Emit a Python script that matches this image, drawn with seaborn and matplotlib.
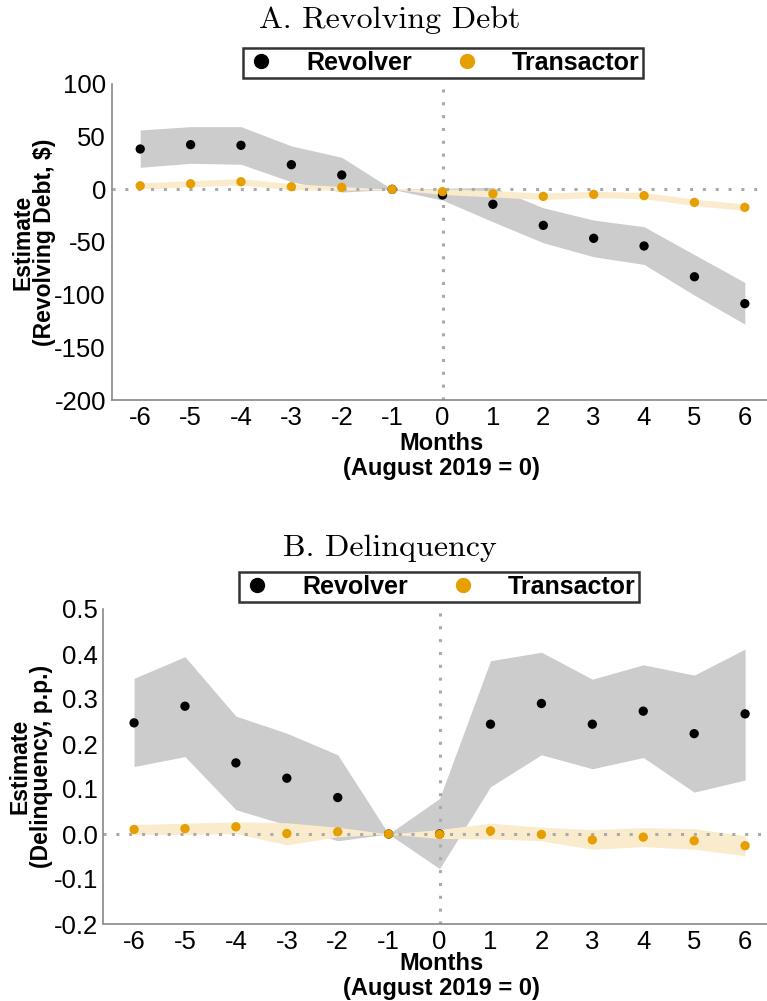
import numpy as np
import pandas as pd
import matplotlib
matplotlib.use("Agg")
import matplotlib.pyplot as plt
import seaborn as sns
from matplotlib.lines import Line2D

months = [-6, -5, -4, -3, -2, -1, 0, 1, 2, 3, 4, 5, 6]

# Panel A: revolving debt ($)
debt_rev = [38.3, 42.4, 41.8, 23.4, 13.6, 0, -5.4, -14.2, -34.2, -46.5, -53.8, -83.0, -108.5]
debt_rev_hi = [56.4, 59.5, 59.5, 41.2, 30.4, 0, 1.0, 1.9, -17.5, -29.2, -35.5, -62.0, -88.4]
debt_rev_lo = [20.9, 24.7, 23.8, 7.2, -2.6, 0, -10.2, -30.8, -50.7, -64.0, -71.3, -100.5, -128.0]
debt_tra = [3.4, 5.3, 7.2, 2.5, 1.9, 0, -2.2, -4.2, -6.7, -4.8, -6.0, -12.4, -17.1]
debt_tra_hi = [6.3, 8.2, 10.2, 5.3, 2.8, 0, 0.5, -1.2, -3.7, -1.8, -3.0, -9.4, -14.0]
debt_tra_lo = [0.5, 2.4, 4.2, -0.3, -1.0, 0, -4.9, -7.2, -9.7, -7.8, -9.0, -15.4, -20.2]

# Panel B: delinquency (p.p.)
delq_rev = [0.247, 0.284, 0.158, 0.124, 0.081, 0, 0.0, 0.244, 0.290, 0.244, 0.273, 0.223, 0.267]
delq_rev_hi = [0.346, 0.394, 0.262, 0.224, 0.176, 0, 0.079, 0.385, 0.404, 0.344, 0.376, 0.353, 0.411]
delq_rev_lo = [0.150, 0.172, 0.054, 0.020, -0.015, 0, -0.077, 0.105, 0.176, 0.145, 0.170, 0.093, 0.120]
delq_tra = [0.010, 0.012, 0.016, 0.001, 0.005, 0, -0.001, 0.007, -0.001, -0.013, -0.007, -0.015, -0.026]
delq_tra_hi = [0.021, 0.024, 0.027, 0.025, 0.015, 0, 0.010, 0.024, 0.015, 0.010, 0.014, 0.012, -0.004]
delq_tra_lo = [-0.001, -0.001, 0.001, -0.024, -0.006, 0, -0.010, -0.011, -0.015, -0.034, -0.028, -0.034, -0.048]

groups = ["Revolver", "Transactor"]
colors = {"Revolver": "black", "Transactor": "#E69F00"}
band_colors = {"Revolver": "#CCCCCC", "Transactor": "#FAEBCC"}

sns.set_style("white")
plt.rcParams["font.family"] = ["Liberation Sans", "DejaVu Sans"]
plt.rcParams["text.color"] = "black"
plt.rcParams["axes.labelcolor"] = "black"

W, H = 767, 1001
fig = plt.figure(figsize=(W / 100, H / 100), dpi=100)


def panel(rect, xlim, ylim, yticks, ytick_labels, est, hi, lo, ylabel, ylab_x, xlab_y,
          title, title_y, leg_x, leg_y):
    ax = fig.add_axes(rect)
    for g in groups:
        ax.fill_between(months, lo[g], hi[g], color=band_colors[g], lw=0, zorder=1)
    ax.axhline(0, color="#AAAAAA", lw=2.2, ls=(0, (1, 3.2)), zorder=2)
    ax.axvline(0, color="#AAAAAA", lw=2.2, ls=(0, (1, 3.2)), zorder=2)
    df = pd.DataFrame({
        "month": months * 2,
        "estimate": est["Revolver"] + est["Transactor"],
        "group": ["Revolver"] * len(months) + ["Transactor"] * len(months),
    })
    sns.scatterplot(data=df, x="month", y="estimate", hue="group", palette=colors,
                    s=45, edgecolor="none", legend=False, ax=ax, zorder=3)
    ax.set_xlim(*xlim)
    ax.set_ylim(*ylim)
    ax.set_xticks(months)
    ax.set_xticklabels([str(m) for m in months])
    ax.set_yticks(yticks)
    ax.set_yticklabels(ytick_labels)
    ax.tick_params(axis="both", labelsize=18.5, length=3, width=1, color="#888888",
                   labelcolor="black", pad=1, direction="out")
    ax.tick_params(axis="x", pad=1)
    for s in ["top", "right"]:
        ax.spines[s].set_visible(False)
    for s in ["left", "bottom"]:
        ax.spines[s].set_color("#888888")
        ax.spines[s].set_linewidth(1.2)

    ax.set_xlabel("Months\n(August 2019 = 0)", fontsize=17, fontweight="bold", linespacing=1.15)
    ax.xaxis.label.set_verticalalignment("center")
    x0 = rect[0] * W
    w = rect[2] * W
    y_bot = (1 - rect[1]) * H
    h = rect[3] * H
    ax.xaxis.set_label_coords((441 - x0) / w, (y_bot - xlab_y) / h)

    ax.set_ylabel(ylabel, fontsize=16.5, fontweight="bold", linespacing=0.92)
    ax.yaxis.label.set_verticalalignment("center")
    ax.yaxis.set_label_coords((ylab_x - x0) / w, 0.5)

    fig.text(390 / W, 1 - title_y / H, title, family="cmr10", fontsize=23, ha="center", va="center")
    handles = [Line2D([], [], marker="o", ls="", color=colors[g], markersize=10) for g in groups]
    leg = fig.legend(handles, groups, loc="center", bbox_to_anchor=(leg_x / W, 1 - leg_y / H),
                     ncol=2, frameon=True, fancybox=False, edgecolor="black",
                     prop={"weight": "bold", "size": 18}, handletextpad=1.2, columnspacing=1.6,
                     borderpad=0.12, handlelength=1.2)
    leg.get_frame().set_linewidth(1.8)
    return ax


panel([111.5 / W, 1 - 400 / H, 1 - 111.5 / W, 316 / H], (-6.57, 6.44), (-200, 100),
      [-200, -150, -100, -50, 0, 50, 100], ["-200", "-150", "-100", "-50", "0", "50", "100"],
      {"Revolver": debt_rev, "Transactor": debt_tra},
      {"Revolver": debt_rev_hi, "Transactor": debt_tra_hi},
      {"Revolver": debt_rev_lo, "Transactor": debt_tra_lo},
      "Estimate\n(Revolving Debt, $)", 34, 456, "A. Revolving Debt", 20, 443, 63)

panel([103.5 / W, 1 - 924 / H, 1 - 103.5 / W, 315 / H], (-6.6, 6.43), (-0.2, 0.5),
      [-0.2, -0.1, 0.0, 0.1, 0.2, 0.3, 0.4, 0.5],
      ["-0.2", "-0.1", "0.0", "0.1", "0.2", "0.3", "0.4", "0.5"],
      {"Revolver": delq_rev, "Transactor": delq_tra},
      {"Revolver": delq_rev_hi, "Transactor": delq_tra_hi},
      {"Revolver": delq_rev_lo, "Transactor": delq_tra_lo},
      "Estimate\n(Delinquency, p.p.)", 31, 976, "B. Delinquency", 548, 439, 587)

fig.savefig("out.png", dpi=100)
